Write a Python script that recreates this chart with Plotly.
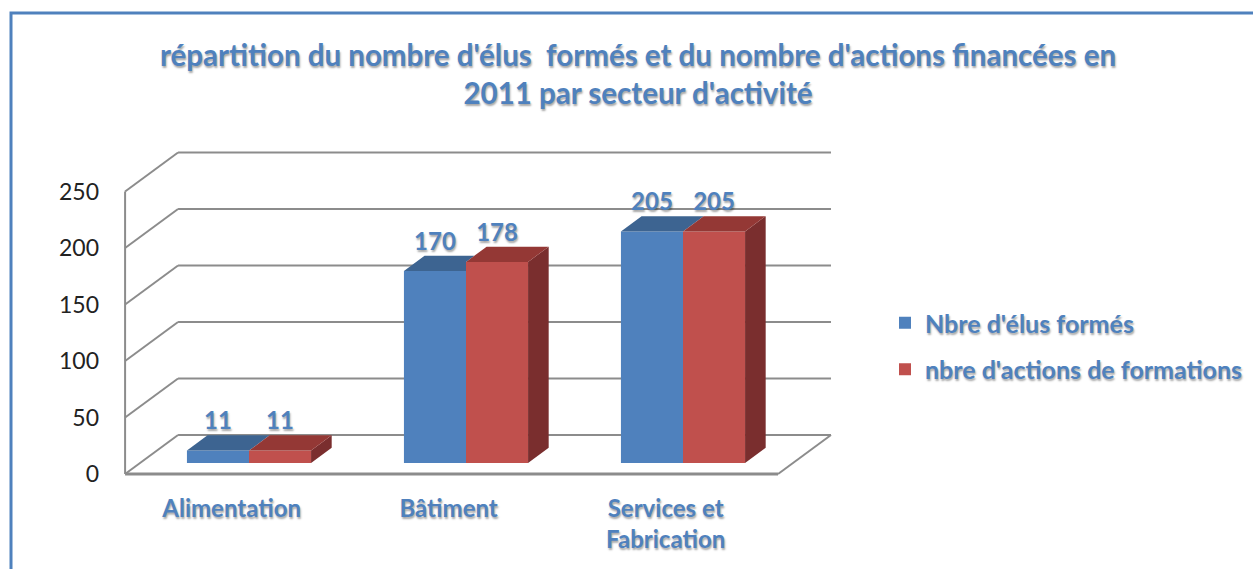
import plotly.graph_objects as go

# data
categories = ["Alimentation", "Bâtiment", "Services et<br>Fabrication"]
elus_formes = [11, 170, 205]
actions_formations = [11, 178, 205]
y_ticks = [0, 50, 100, 150, 200, 250]

BLUE = "#4F81BD"
SHADOW = "1px 2px 2px rgba(0,0,0,0.35)"

# name, values, front, top, side colours
series = [
    ("Nbre d'élus formés", elus_formes, "#4F81BD", "#3D6491", "#2F4D71"),
    ("nbre d'actions de formations", actions_formations, "#C0504D", "#943835", "#7A2E2E"),
]

# fake 3d look, everything in axis units
BAR_W = 0.286      # width of one bar front
BASE = 9.7         # bars stand a bit behind the front edge of the floor
DX, DY = 0.095, 13.5          # depth of a bar
WALL_DX, WALL_DY = 0.244, 34.5  # depth of the floor / back wall
X_LEFT, X_RIGHT = -0.571, 2.438

fig = go.Figure()

for s, (name, vals, front, top, side) in enumerate(series):
    last = s == len(series) - 1
    for i, v in enumerate(vals):
        x0 = i - BAR_W + s * BAR_W
        x1 = x0 + BAR_W
        h = BASE + v
        if last:
            # right side face
            fig.add_trace(go.Scatter(x=[x1, x1 + DX, x1 + DX, x1, x1], y=[BASE, BASE + DY, h + DY, h, BASE],
                                     mode="lines", fill="toself", fillcolor=side, line=dict(width=0),
                                     hoverinfo="skip", showlegend=False))
            xs = [x0, x0 + DX, x1 + DX, x1, x0]
            ys = [h, h + DY, h + DY, h, h]
        else:
            # top face, cut where the next bar hides it
            nh = min(BASE + series[s + 1][1][i], h + DY)
            xc = x1 + (h + DY - nh) / DY * DX
            xs = [x0, x0 + DX, xc, x1, x1, x0]
            ys = [h, h + DY, h + DY, nh, h, h]
        fig.add_trace(go.Scatter(x=xs, y=ys, mode="lines", fill="toself", fillcolor=top, line=dict(width=0),
                                 hoverinfo="skip", showlegend=False))
    fig.add_trace(go.Bar(x=list(range(len(vals))), y=vals, base=BASE, offset=-BAR_W + s * BAR_W, width=BAR_W,
                         name=name, legendgroup=name, marker=dict(color=front, line=dict(width=0))))
    fig.add_trace(go.Scatter(x=[i - BAR_W + s * BAR_W + BAR_W / 2 for i in range(len(vals))],
                             y=[BASE + v + DY for v in vals], text=[str(v) for v in vals],
                             mode="text", textposition="top center", hoverinfo="skip", showlegend=False,
                             textfont=dict(family="Lato", size=24, color=BLUE, weight="bold", shadow=SHADOW)))

# walls and floor
shapes = []
grey = "#8C8C8C"
for t in y_ticks:
    shapes.append(dict(type="line", x0=X_LEFT, y0=t, x1=X_LEFT + WALL_DX, y1=t + WALL_DY))
    shapes.append(dict(type="line", x0=X_LEFT + WALL_DX, y0=t + WALL_DY, x1=X_RIGHT + WALL_DX, y1=t + WALL_DY))
shapes.append(dict(type="line", x0=X_LEFT, y0=0, x1=X_LEFT, y1=y_ticks[-1]))
shapes.append(dict(type="line", x0=X_RIGHT, y0=0, x1=X_RIGHT + WALL_DX, y1=WALL_DY))
shapes.append(dict(type="line", x0=X_LEFT, y0=0, x1=X_RIGHT, y1=0, line=dict(color=grey, width=3)))
for sh in shapes:
    sh.update(xref="x", yref="y", layer="below")
    sh.setdefault("line", dict(color=grey, width=2))
# blue frame around the chart
shapes.append(dict(type="rect", xref="paper", yref="paper", x0=11 / 1253, x1=1.05, y0=-0.1, y1=1 - 13 / 569,
                   line=dict(color=BLUE, width=3), layer="above"))

fig.update_layout(
    width=1253, height=569,
    margin=dict(l=0, r=0, t=0, b=0),
    paper_bgcolor="white", plot_bgcolor="white",
    font=dict(family="Lato"),
    barmode="overlay",
    shapes=shapes,
    title=dict(text="répartition du nombre d'élus  formés et du nombre d'actions financées en<br>2011 par secteur d'activité",
               x=638 / 1253, xanchor="center", y=1 - 66 / 569, yanchor="middle", yref="container",
               font=dict(family="Lato", size=29.5, color=BLUE, weight="bold", shadow=SHADOW)),
    legend=dict(x=885 / 1253, xanchor="left", y=1 - 346 / 569, yanchor="middle",
                traceorder="grouped", tracegroupgap=11,
                font=dict(family="Lato", size=25, color=BLUE, weight="bold", shadow=SHADOW)),
    xaxis=dict(range=[-249 / 217, 1004 / 217], tickvals=[i - 0.08 for i in range(len(categories))],
               ticktext=categories, anchor="free", position=(569 - 492) / 569,
               showgrid=False, zeroline=False, showline=False, ticks="",
               tickfont=dict(family="Lato", size=24, color=BLUE, weight="bold", shadow=SHADOW)),
    yaxis=dict(range=[-95 / 1.13, 474 / 1.13], tickvals=y_ticks, anchor="free", position=99 / 1253,
               showgrid=False, zeroline=False, showline=False, ticks="",
               tickfont=dict(family="Lato", size=23, color="#222222")),
    hovermode=False,
)

# no default page margin so the chart sits at the top left corner
fig.write_html("out.html", config={"displayModeBar": False},
               post_script="document.body.style.margin='0';")
